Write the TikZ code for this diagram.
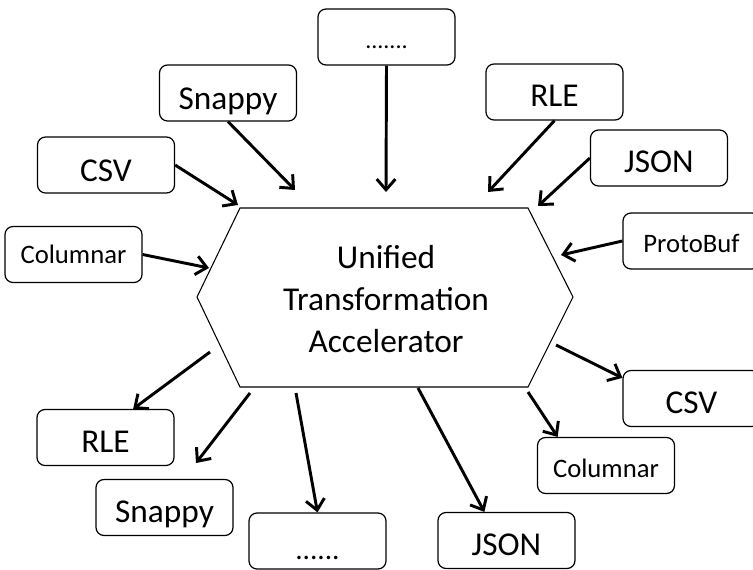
\documentclass[tikz,border=0pt]{standalone}
\usepackage{fontspec}
\setmainfont{Carlito}
\usetikzlibrary{arrows.meta,calc}
\begin{document}
\begin{tikzpicture}[x=0.75pt,y=-0.75pt,
  box/.style={draw, line width=0.9pt, rounded corners=6pt,
    minimum width=102.75pt, minimum height=42pt, inner sep=0pt,
    font=\fontsize{25}{30}\selectfont, text height=22pt, text depth=0pt},
  smallbox/.style={box, font=\fontsize{20}{24}\selectfont, text height=17.5pt},
  hexshape/.style={draw, line width=0.8pt, fill=white},
  flow/.style={line width=2.2pt, -{Straight Barb[length=8pt,width=14pt]}}]

% page frame
\fill[white] (0,0) rectangle (753,570);
\useasboundingbox (0,0) rectangle (753,570);

% central hexagon
\draw[hexshape] (240,208) -- (528,208) -- (573,297) -- (528,387)
  -- (240,387) -- (197,297) -- cycle;
\node[align=center, font=\fontsize{25}{31.5}\selectfont] (hub) at (386,299)
  {Unified\\Transformation\\Accelerator};

% input formats
\node[box, font=\fontsize{18}{22}\selectfont, text height=18pt] (dotsIn) at (386.5,37) {.......};
\node[box, text height=25.5pt] (snappyIn) at (228,93) {Snappy};
\node[box, text height=25.5pt] (csvIn) at (106,165) {CSV};
\node[smallbox, text height=13pt] (colIn) at (73.5,254.5) {Columnar};
\node[box]      (rleIn)    at (554.5,92)  {RLE};
\node[box]      (jsonIn)   at (659,158)   {JSON};
\node[smallbox] (pbIn)     at (691.5,241) {ProtoBuf};

% output formats
\node[box]      (rleOut)    at (105.5,437.5) {RLE};
\node[box]      (snappyOut) at (164.5,507.5) {Snappy};
\node[box, font=\fontsize{22}{26}\selectfont, text height=27pt] (dotsOut) at (317.5,541) {......};
\node[box]      (jsonOut)   at (506.5,540.5) {JSON};
\node[smallbox] (colOut)    at (606,465.5)   {Columnar};
\node[box]      (csvOut)    at (691.5,398.5) {CSV};

% free ends of the connectors
\coordinate (inDots)   at (386,192);
\coordinate (inSnappy) at (295,190);
\coordinate (inCsv)    at (238,205);
\coordinate (inCol)    at (209,268);
\coordinate (inRle)    at (488,192);
\coordinate (inJson)   at (538,206);
\coordinate (inPb)     at (561,255);
\coordinate (outRle)    at (210,352);
\coordinate (outSnappy) at (250,393);
\coordinate (snappyTip) at (196,463);
\coordinate (outDots)   at (296,393);
\coordinate (outJson)   at (418,388);
\coordinate (outCol)    at (528,392);
\coordinate (outCsv)    at (556,345);

% incoming connectors
\draw[flow] (dotsIn.south) -- (inDots);
\draw[flow] (snappyIn.south) -- (inSnappy);
\draw[flow] (csvIn.east) -- (inCsv);
\draw[flow] (colIn.east) -- (inCol);
\draw[flow] (rleIn.south) -- (inRle);
\draw[flow] (jsonIn.west) -- (inJson);
\draw[flow] (pbIn.west) -- (inPb);

% outgoing connectors
\draw[flow] (outRle) -- ($(rleOut.north west)!0.70!(rleOut.north east)$);
\draw[flow] (outSnappy) -- (snappyTip);
\draw[flow] (outDots) -- (dotsOut.north);
\draw[flow] (outJson) -- ($(jsonOut.north west)!0.34!(jsonOut.north east)$);
\draw[flow] (outCol) -- ($(colOut.north west)!0.15!(colOut.north east)$);
\draw[flow] (outCsv) -- ($(csvOut.north west)!0.14!(csvOut.south west)$);
\end{tikzpicture}
\end{document}
